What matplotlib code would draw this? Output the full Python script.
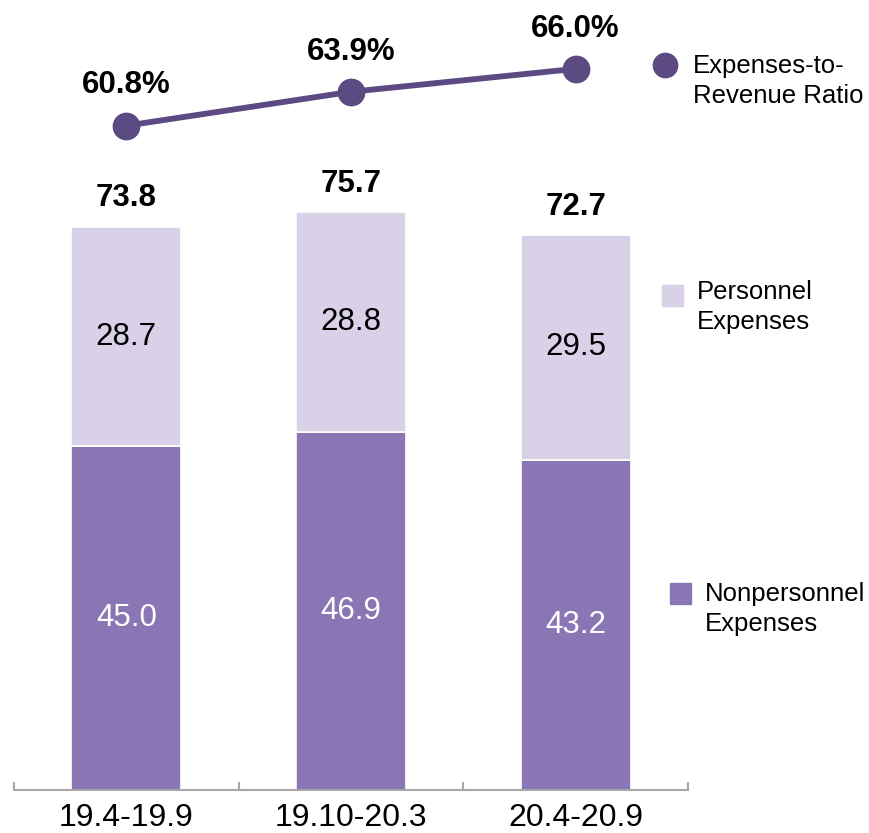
import matplotlib
matplotlib.use('Agg')
import matplotlib.pyplot as plt
from matplotlib.lines import Line2D
from matplotlib.patches import Rectangle
import numpy as np

plt.rcParams['font.family'] = ['Liberation Sans', 'DejaVu Sans']

periods = ['19.4-19.9', '19.10-20.3', '20.4-20.9']
nonpersonnel = [45.0, 46.9, 43.2]
personnel = [28.7, 28.8, 29.5]
totals = [73.8, 75.7, 72.7]
ratio = [60.8, 63.9, 66.0]

dark = '#8A76B5'
light = '#D9D1E7'
line_col = '#5C4A82'
axis_gray = '#A6A6A6'

fig = plt.figure(figsize=(8.7, 8.33), dpi=100)
ax = fig.add_axes([0.0161, 0.0516, 0.7747, 0.9484])
x = np.arange(len(periods))

ax.bar(x, nonpersonnel, width=0.49, color=dark, edgecolor='white', linewidth=1.2)
ax.bar(x, personnel, width=0.49, bottom=nonpersonnel, color=light, edgecolor='white', linewidth=1.2)

for i in range(len(periods)):
    ax.text(x[i], nonpersonnel[i] / 2, f'{nonpersonnel[i]:.1f}', ha='center', va='center',
            fontsize=22.5, color='white')
    ax.text(x[i], nonpersonnel[i] + personnel[i] / 2, f'{personnel[i]:.1f}', ha='center',
            va='center', fontsize=22.5, color='black')
    ax.annotate(f'{totals[i]:.1f}', (x[i], totals[i]), xytext=(0, 20), textcoords='offset points',
                ha='center', va='center', fontsize=22.5, fontweight='bold')

ax.set_xlim(-0.5, 2.5)
ax.set_ylim(0, 103.4)
ax.set_yticks([])
for s in ['left', 'right', 'top']:
    ax.spines[s].set_visible(False)
ax.spines['bottom'].set_color(axis_gray)
ax.spines['bottom'].set_linewidth(1.5)
ax.set_xticks(x)
ax.set_xticklabels(periods, fontsize=23)
ax.tick_params(axis='x', which='major', length=0, pad=9)
ax.set_xticks([-0.5, 0.5, 1.5, 2.5], minor=True)
ax.tick_params(axis='x', which='minor', direction='in', length=6, width=1.5, color=axis_gray)

# expenses-to-revenue ratio on its own scale
ax2 = ax.twinx()
ax2.plot(x, ratio, color=line_col, linewidth=4.2, marker='o', markersize=19)
for i in range(len(periods)):
    ax2.annotate(f'{ratio[i]:.1f}%', (x[i], ratio[i]), xytext=(0, 29), textcoords='offset points',
                 ha='center', va='center', fontsize=22.5, fontweight='bold')
ax2.set_ylim(0, 72.3)
ax2.set_yticks([])
ax2.axis('off')

# legend entries
fig.add_artist(Line2D([665 / 870], [1 - 65 / 833], marker='o', markersize=17.5, color=line_col,
                      transform=fig.transFigure))
fig.text(693 / 870, 1 - 81 / 833, 'Expenses-to-\nRevenue Ratio', fontsize=18.5, va='center',
         ha='left', linespacing=1.3)
fig.add_artist(Rectangle((662 / 870, 1 - 306 / 833), 21 / 870, 21 / 833, color=light,
                         transform=fig.transFigure))
fig.text(697 / 870, 1 - 307 / 833, 'Personnel\nExpenses', fontsize=18.5, va='center',
         ha='left', linespacing=1.3)
fig.add_artist(Rectangle((670 / 870, 1 - 604 / 833), 21 / 870, 21 / 833, color=dark,
                         transform=fig.transFigure))
fig.text(705 / 870, 1 - 609 / 833, 'Nonpersonnel\nExpenses', fontsize=18.5, va='center',
         ha='left', linespacing=1.3)

fig.savefig('out.png', dpi=100)
